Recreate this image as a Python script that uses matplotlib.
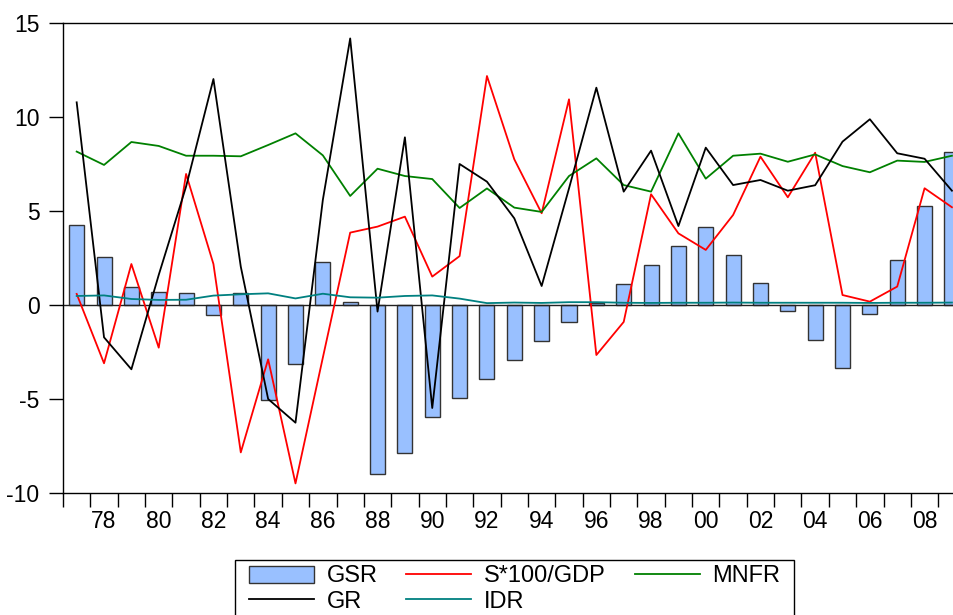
import numpy as np
import matplotlib
matplotlib.use("Agg")
import matplotlib.pyplot as plt
from matplotlib.patches import Patch, Rectangle
from matplotlib.lines import Line2D

plt.rcParams['font.family'] = ['Liberation Sans', 'DejaVu Sans']
plt.rcParams['axes.unicode_minus'] = False

years = np.arange(1977, 2010)

gsr = [4.24, 2.57, 0.94, 0.67, 0.64, -0.53, 0.65, -5.05, -3.14, 2.27, 0.18,
       -8.99, -7.89, -5.96, -4.95, -3.94, -2.94, -1.91, -0.9, 0.1, 1.12,
       2.11, 3.14, 4.15, 2.64, 1.15, -0.34, -1.84, -3.35, -0.48, 2.39, 5.25, 8.12]
gr = [10.78, -1.72, -3.42, 1.6, 6.3, 12.02, 2.04, -5.0, -6.26, 5.59, 14.18,
      -0.35, 8.92, -5.48, 7.5, 6.56, 4.61, 1.01, 6.2, 11.56, 6.03,
      8.21, 4.2, 8.37, 6.38, 6.65, 6.08, 6.37, 8.69, 9.88, 8.07, 7.78, 6.08]
s_gdp = [0.59, -3.1, 2.18, -2.27, 6.97, 2.18, -7.84, -2.89, -9.49, -2.8, 3.85,
         4.17, 4.7, 1.51, 2.6, 12.18, 7.75, 4.88, 10.94, -2.66, -0.9,
         5.89, 3.81, 2.93, 4.79, 7.89, 5.73, 8.1, 0.53, 0.18, 0.98, 6.21, 5.2]
mnfr = [8.16, 7.45, 8.67, 8.46, 7.94, 7.94, 7.91, 8.51, 9.13, 7.96, 5.8,
        7.25, 6.86, 6.7, 5.16, 6.2, 5.18, 4.95, 6.86, 7.8, 6.38,
        6.03, 9.13, 6.72, 7.94, 8.05, 7.62, 8.01, 7.39, 7.06, 7.68, 7.61, 7.94]
idr = [0.48, 0.51, 0.32, 0.27, 0.28, 0.5, 0.57, 0.62, 0.35, 0.6, 0.41,
       0.39, 0.48, 0.51, 0.34, 0.1, 0.13, 0.11, 0.15, 0.15, 0.12,
       0.11, 0.12, 0.12, 0.13, 0.12, 0.12, 0.12, 0.12, 0.11, 0.12, 0.12, 0.13]

W, H = 954, 615
fig = plt.figure(figsize=(W / 100, H / 100), dpi=100)
# plot area runs past the right edge of the picture (cropped like the original)
x0, x1, y0, y1 = 63, 965.6, 23, 493
ax = fig.add_axes([x0 / W, 1 - y1 / H, (x1 - x0) / W, (y1 - y0) / H])

bar_col = '#99c0ff'
ax.bar(years, gsr, width=0.55, color=bar_col, edgecolor='#333333', linewidth=1.0, zorder=2)
ax.axhline(0, color='#222222', linewidth=1.0, zorder=2.5)
ax.plot(years, s_gdp, color='#ff0000', lw=1.3, zorder=3)
ax.plot(years, mnfr, color='#008000', lw=1.3, zorder=3)
ax.plot(years, gr, color='black', lw=1.3, zorder=3)
ax.plot(years, idr, color='#008080', lw=1.3, zorder=3)

ax.set_xlim(1976.5, 2009.5)
ax.set_ylim(-10, 15)
ax.set_yticks([-10, -5, 0, 5, 10, 15])
ax.tick_params(axis='y', direction='out', length=10, width=1, labelsize=16.5, pad=7)

even = years[years % 2 == 0]
ax.set_xticks(even)
ax.set_xticklabels(['%02d' % (y % 100) for y in even])
ax.set_xticks(np.arange(1976.5, 2010, 1.0), minor=True)
ax.tick_params(axis='x', which='major', length=0, labelsize=16.5, pad=12)
ax.tick_params(axis='x', which='minor', direction='out', length=10, width=1)

for sp in ax.spines.values():
    sp.set_linewidth(1.0)
    sp.set_color('black')

handles = [
    Patch(facecolor=bar_col, edgecolor='#333333', linewidth=1.0),
    Line2D([], [], color='black', lw=1.3),
    Line2D([], [], color='#ff0000', lw=1.3),
    Line2D([], [], color='#008080', lw=1.3),
    Line2D([], [], color='#008000', lw=1.3),
]
labels = ['GSR', 'GR', 'S*100/GDP', 'IDR', 'MNFR']
leg = fig.legend(handles, labels, ncol=3, loc='upper left',
                 bbox_to_anchor=(249 / W, 1 - 565.5 / H), fontsize=17,
                 frameon=False, handlelength=2.75, handleheight=0.75,
                 handletextpad=0.53, columnspacing=1.23, labelspacing=0.13,
                 borderpad=0, borderaxespad=0)

# legend box, its lower part cut off by the picture edge
fig.patches.append(Rectangle((235 / W, -0.05), (794 - 235) / W, 0.05 + (615 - 560) / H,
                             transform=fig.transFigure, fill=False,
                             edgecolor='black', linewidth=1.0))

fig.savefig('out.png', dpi=100)
